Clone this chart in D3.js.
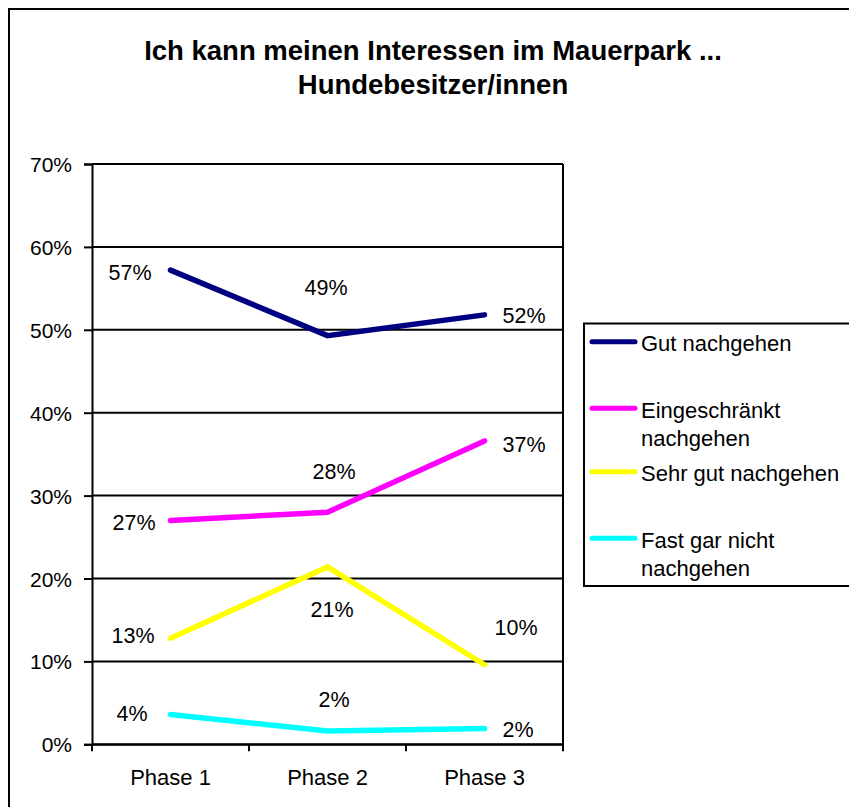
<!DOCTYPE html>
<html>
<head>
<meta charset="utf-8">
<script src="https://cdn.jsdelivr.net/npm/d3@7"></script>
<style>
  html, body { margin: 0; padding: 0; background: #fff; }
  svg { display: block; font-family: "Liberation Sans", Arial, sans-serif; }
</style>
</head>
<body>
<svg id="chart" width="849" height="807"></svg>
<script>
// ---- Data ----
const categories = ["Phase 1", "Phase 2", "Phase 3"];
const seriesNames = ["Gut nachgehen", "Eingeschränkt nachgehen", "Sehr gut nachgehen", "Fast gar nicht nachgehen"];
const gutValues = [0.572, 0.493, 0.518];
const eingeschraenktValues = [0.270, 0.280, 0.366];
const sehrGutValues = [0.128, 0.214, 0.096];
const fastGarNichtValues = [0.036, 0.016, 0.019];
const yTicks = [0, 0.1, 0.2, 0.3, 0.4, 0.5, 0.6, 0.7];
const titleLines = ["Ich kann meinen Interessen im Mauerpark ...", "Hundebesitzer/innen"];

// ---- Styles / layout ----
const colors = ["#000080", "#FF00FF", "#FFFF00", "#00FFFF"];
const legendLines = [["Gut nachgehen"], ["Eingeschränkt", "nachgehen"], ["Sehr gut nachgehen"], ["Fast gar nicht", "nachgehen"]];
const legendRowY = [341.7, 408.3, 471.7, 538.3];
// label offsets (dx, dy of baseline) relative to each point
const labelOffsets = [
  [[-40.5, 10], [-1.5, -40.6], [39.5, 7.7]],
  [[-36.5, 9.5], [6.5, -33], [39.5, 10.8]],
  [[-37.5, 5], [4.5, 50.4], [31.5, -29.7]],
  [[-38.5, 6.5], [6.5, -24.3], [33.5, 8.8]]
];

const allSeries = [gutValues, eingeschraenktValues, sehrGutValues, fastGarNichtValues];

const svg = d3.select("#chart");
const plot = { left: 92, right: 563, top: 164, bottom: 744.3 };

// outer chart border (only top and left are visible in the frame)
svg.append("rect")
  .attr("x", 9).attr("y", 9).attr("width", 900).attr("height", 900)
  .attr("fill", "#fff").attr("stroke", "#000").attr("stroke-width", 2);

// title
const titleY = [59.5, 94.3];
titleLines.forEach((t, i) => {
  svg.append("text")
    .attr("x", 433)
    .attr("y", titleY[i])
    .attr("text-anchor", "middle")
    .attr("font-size", 27.5)
    .attr("font-weight", "bold")
    .attr("fill", "#000")
    .text(t);
});

const x = d3.scaleBand().domain(categories).range([plot.left, plot.right]);
const y = d3.scaleLinear().domain([0, 0.7]).range([plot.bottom, plot.top]);
const fmt = d3.format(".0%");

// gridlines
svg.append("g").selectAll("line").data(yTicks).join("line")
  .attr("x1", plot.left).attr("x2", plot.right)
  .attr("y1", d => y(d)).attr("y2", d => y(d))
  .attr("stroke", "#000").attr("stroke-width", 2);

// right border of plot area
svg.append("line")
  .attr("x1", plot.right).attr("x2", plot.right)
  .attr("y1", plot.top).attr("y2", plot.bottom)
  .attr("stroke", "#000").attr("stroke-width", 2);

// y axis
const yAxis = d3.axisLeft(y).tickValues(yTicks).tickFormat(fmt).tickSize(8).tickPadding(12);
const gy = svg.append("g").attr("transform", `translate(${plot.left},0)`).call(yAxis);
gy.select(".domain").attr("stroke", "#000").attr("stroke-width", 2);
gy.selectAll(".tick line").attr("stroke", "#000").attr("stroke-width", 2);
gy.selectAll(".tick text").attr("font-size", 21).attr("font-family", "Liberation Sans, Arial, sans-serif")
  .attr("fill", "#000").attr("dy", "0.36em");

// x axis
const xAxis = d3.axisBottom(x).tickSize(0).tickPadding(0);
const gx = svg.append("g").attr("transform", `translate(0,${plot.bottom})`).call(xAxis);
gx.select(".domain").attr("stroke", "#000").attr("stroke-width", 2);
gx.selectAll(".tick text").attr("font-size", 22).attr("font-family", "Liberation Sans, Arial, sans-serif")
  .attr("fill", "#000").attr("dy", 0).attr("y", 41);
// category boundary ticks
const boundaries = categories.map(c => x(c)).concat([x(categories[categories.length - 1]) + x.bandwidth()]);
gx.append("g").selectAll("line").data(boundaries).join("line")
  .attr("x1", d => d).attr("x2", d => d).attr("y1", 0).attr("y2", 7)
  .attr("stroke", "#000").attr("stroke-width", 2);

// series lines
const line = d3.line().x((d, i) => x(categories[i]) + x.bandwidth() / 2).y(d => y(d));
allSeries.forEach((vals, s) => {
  svg.append("path")
    .datum(vals)
    .attr("d", line)
    .attr("fill", "none")
    .attr("stroke", colors[s])
    .attr("stroke-width", 5.5)
    .attr("stroke-linecap", "round")
    .attr("stroke-linejoin", "miter");
});

// data labels
allSeries.forEach((vals, s) => {
  svg.append("g").selectAll("text").data(vals).join("text")
    .attr("x", (d, i) => x(categories[i]) + x.bandwidth() / 2 + labelOffsets[s][i][0])
    .attr("y", (d, i) => y(d) + labelOffsets[s][i][1])
    .attr("text-anchor", "middle")
    .attr("font-size", 21.5)
    .attr("fill", "#000")
    .text(d => fmt(d));
});

// legend
svg.append("rect")
  .attr("x", 584).attr("y", 323.5).attr("width", 400).attr("height", 262.5)
  .attr("fill", "#fff").attr("stroke", "#000").attr("stroke-width", 2);
seriesNames.forEach((name, s) => {
  const ly = legendRowY[s];
  svg.append("line")
    .attr("x1", 592).attr("x2", 635).attr("y1", ly).attr("y2", ly)
    .attr("stroke", colors[s]).attr("stroke-width", 5).attr("stroke-linecap", "round");
  const t = svg.append("text").attr("x", 641).attr("y", ly + 9.5).attr("font-size", 22).attr("fill", "#000");
  legendLines[s].forEach((ln, k) => {
    t.append("tspan").attr("x", 641).attr("dy", k === 0 ? 0 : 28.5).text(ln);
  });
});
</script>
</body>
</html>
